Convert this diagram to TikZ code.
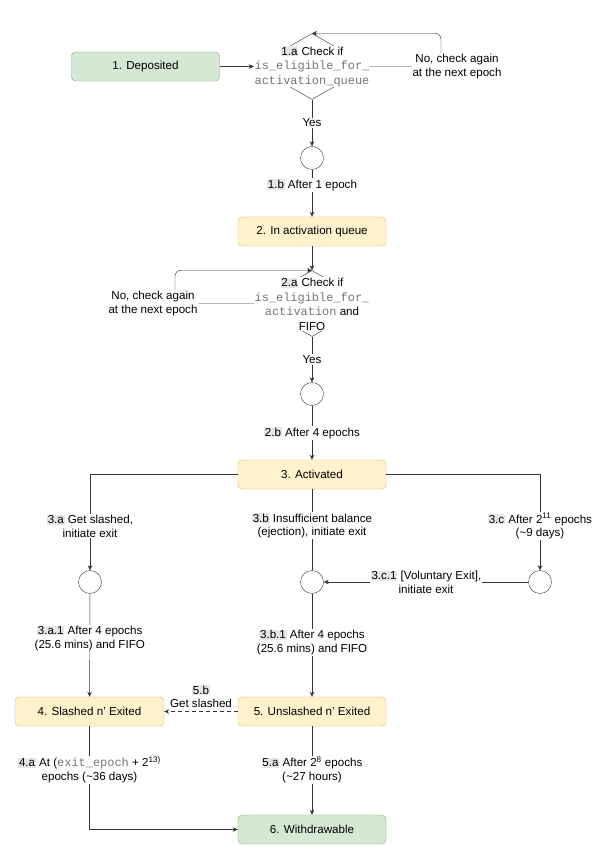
\documentclass[tikz,border=0pt]{standalone}
\usepackage{fontspec}
\setmainfont{Liberation Sans}
\setmonofont{Liberation Mono}[Scale=1.03]
\usetikzlibrary{shapes.geometric, arrows.meta}
\definecolor{greenFill}{HTML}{D5E8D4}
\definecolor{greenLine}{HTML}{82B366}
\definecolor{yellowFill}{HTML}{FFF2CC}
\definecolor{yellowLine}{HTML}{D6B656}
\definecolor{idGray}{HTML}{E6E6E6}
\definecolor{codeGray}{HTML}{757575}
\definecolor{lineGray}{HTML}{333333}
\tikzstyle{greenBox} = [rectangle, rounded corners=4pt, draw=greenLine, fill=greenFill, text centered, minimum width=148pt, minimum height=29pt]
\tikzstyle{yellowBox} = [rectangle, rounded corners=4pt, draw=yellowLine, fill=yellowFill, text centered, minimum width=148pt, minimum height=29pt]
\tikzstyle{check} = [diamond, draw=lineGray, minimum width=116pt, minimum height=66pt, inner sep=0pt]
\tikzstyle{checkText} = [fill=white, align=center, inner sep=0.5pt, font=\fontsize{11.6}{14.5}\selectfont]
\tikzstyle{dot} = [circle, draw=lineGray, minimum size=23pt, inner sep=0pt]
\tikzstyle{lbl} = [fill=white, align=center, inner sep=1pt]
\tikzstyle{arr} = [draw=lineGray, -{Stealth[length=5pt,width=4.5pt]}]
\newcommand{\stepid}[1]{{\setlength{\fboxsep}{0.8pt}\colorbox{idGray}{#1}}}
\newcommand{\code}[1]{{\ttfamily\color{codeGray}#1}}

\begin{document}
\begin{tikzpicture}[x=1pt, y=-1pt, font=\fontsize{11.6}{13.5}\selectfont]
		\useasboundingbox (0,0) rectangle (600,866);
		% states and checks
		\node [greenBox](dep) at (145.5,66.5) {1. Deposited};
		\node [check](d1) at (312,66.5) {};
		\node [checkText](d1txt) at (312,66.5) {\stepid{1.a} Check if\\\code{is\_eligible\_for\_}\\\code{activation\_queue}};
		\node [dot](c1) at (312,158) {};
		\node [yellowBox](queue) at (312,231.5) {2. In activation queue};
		\node [check](d2) at (312,303.5) {};
		\node [checkText](d2txt) at (312,304) {\stepid{2.a} Check if\\\code{is\_eligible\_for\_}\\\code{activation} and\\FIFO};
		\node [dot](c2) at (312,394) {};
		\node [yellowBox](act) at (312,474.5) {3. Activated};
		\node [dot](c3a) at (90,582) {};
		\node [dot](c3b) at (312,582) {};
		\node [dot](c3c) at (540,582) {};
		\node [yellowBox,minimum width=149pt](slashed) at (89.5,711.5) {4. Slashed n' Exited};
		\node [yellowBox](unsl) at (312,711.5) {5. Unslashed n' Exited};
		\node [greenBox](wd) at (312,829.5) {6. Withdrawable};
		
		% transitions
		\draw [arr] (dep) -- (d1);
		\draw [arr, rounded corners=6pt] (d1.east) -- (441,66.5) node[lbl, xshift=16pt] {No, check again\\at the next epoch} |- (d1.north);
		\draw [arr] (d1) -- node[lbl] {Yes} (c1);
		\draw [arr] (c1) -- node[lbl, pos=0.33] {\stepid{1.b} After 1 epoch} (queue);
		\draw [arr] (queue) -- (d2);
		\draw [arr, rounded corners=6pt] (d2.west) -- (175,303.5) node[lbl, xshift=-22pt] {No, check again\\at the next epoch} |- (d2.north);
		\draw [arr] (d2) -- node[lbl] {Yes} (c2);
		\draw [arr] (c2) -- node[lbl] {\stepid{2.b} After 4 epochs} (act);
		\draw [arr] (act.west) -| node[lbl, pos=0.77] {\stepid{3.a} Get slashed,\\initiate exit} (c3a);
		\draw [draw=lineGray] (act) -- node[lbl, pos=0.45] {\stepid{3.b} Insufficient balance\\(ejection), initiate exit} (c3b);
		\draw [arr] (act.east) -| node[lbl, pos=0.77] {\stepid{3.c} After 2\textsuperscript{11} epochs\\(\textasciitilde9 days)} (c3c);
		\draw [arr] (c3c) -- node[lbl] {\stepid{3.c.1} [Voluntary Exit],\\initiate exit} (c3b);
		\draw [arr] (c3a) -- node[lbl, pos=0.43] {\stepid{3.a.1} After 4 epochs\\(25.6 mins) and FIFO} (slashed);
		\draw [arr] (c3b) -- node[lbl, pos=0.47] {\stepid{3.b.1} After 4 epochs\\(25.6 mins) and FIFO} (unsl);
		\draw [arr, dash pattern=on 4pt off 3pt, line width=0.8pt] (unsl) -- node[above, align=center, inner sep=1pt, yshift=2pt] {\stepid{5.b}\\Get slashed} (slashed);
		\draw [arr] (slashed) |- node[lbl, pos=0.21] {\stepid{4.a} At (\code{exit\_epoch} + 2\textsuperscript{13)}\\epochs (\textasciitilde36 days)} (wd);
		\draw [arr] (unsl) -- node[lbl, pos=0.49] {\stepid{5.a} After 2\textsuperscript{8} epochs\\(\textasciitilde27 hours)} (wd);
		
		\end{tikzpicture}
\end{document}
